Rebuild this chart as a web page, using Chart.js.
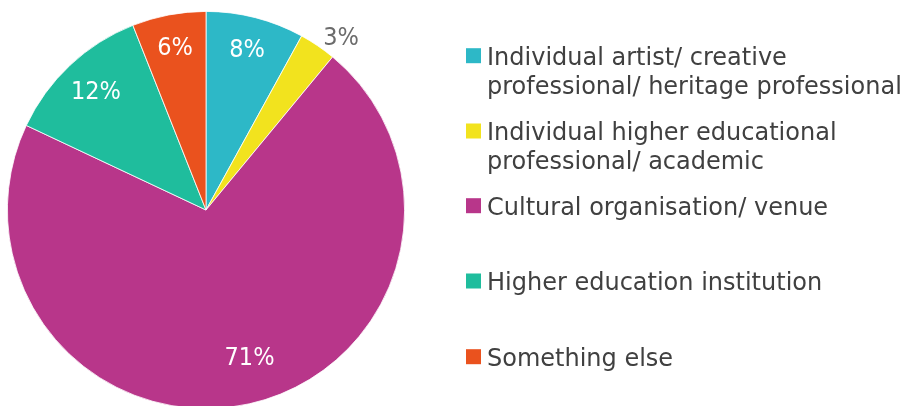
<!DOCTYPE html>
<html>
<head>
<meta charset="utf-8">
<script src="https://cdn.jsdelivr.net/npm/chart.js@4/dist/chart.umd.min.js"></script>
<style>
  html, body { margin: 0; padding: 0; background: #ffffff; overflow: hidden; }
  #wrap { width: 906px; height: 406px; overflow: hidden; }
  canvas { display: block; }
</style>
</head>
<body>
<div id="wrap"><canvas id="chart" width="906" height="409"></canvas></div>
<script>
// Respondent types and their share of responses (%)
const categories = [
  ["Individual artist/ creative", "professional/ heritage professional"],
  ["Individual higher educational", "professional/ academic"],
  ["Cultural organisation/ venue"],
  ["Higher education institution"],
  ["Something else"]
];
const shares = [8, 3, 71, 12, 6];
const valueLabels = ["8%", "3%", "71%", "12%", "6%"];
const sliceColors = ["#2DB8C7", "#F2E31E", "#B8368A", "#1FBD9D", "#EA521E"];

const LEGEND_FONT = '"DejaVu Sans", sans-serif';
const LABEL_FONT = '"Liberation Sans Narrow", "DejaVu Sans Condensed", sans-serif';

// Label placement per slice: radial fraction and angular nudge (radians)
const labelRadius = [0.83, 1.1, 0.78, 0.81, 0.83];
const labelNudge = [0, 0.07, -0.065, 0, 0];

// Percent labels placed along each slice's mid-angle
const sliceLabels = {
  id: 'sliceLabels',
  afterDatasetsDraw(chart) {
    const ctx = chart.ctx;
    const arcs = chart.getDatasetMeta(0).data;
    ctx.save();
    ctx.font = '25px ' + LABEL_FONT;
    ctx.textAlign = 'center';
    ctx.textBaseline = 'middle';
    arcs.forEach((arc, i) => {
      const outside = labelRadius[i] > 1;
      const mid = (arc.startAngle + arc.endAngle) / 2 + labelNudge[i];
      const r = arc.outerRadius * labelRadius[i];
      const x = arc.x + Math.cos(mid) * r;
      const y = arc.y + Math.sin(mid) * r;
      ctx.fillStyle = outside ? '#6b6b6b' : '#ffffff';
      ctx.fillText(valueLabels[i], x, y);
    });
    ctx.restore();
  }
};

// Legend on the right with square swatches and wrapped labels
const sideLegend = {
  id: 'sideLegend',
  afterDraw(chart) {
    const ctx = chart.ctx;
    const rows = [55.7, 131, 205.7, 281, 356.7];
    const swatchX = 466, swatchSize = 15, textX = 487, lineGap = 29;
    ctx.save();
    ctx.font = '24px ' + LEGEND_FONT;
    ctx.textAlign = 'left';
    ctx.textBaseline = 'alphabetic';
    categories.forEach((lines, i) => {
      const cy = rows[i];
      ctx.fillStyle = sliceColors[i];
      ctx.fillRect(swatchX, cy - swatchSize / 2, swatchSize, swatchSize);
      ctx.fillStyle = '#404040';
      lines.forEach((line, j) => {
        ctx.fillText(line, textX, cy + 9 + j * lineGap);
      });
    });
    ctx.restore();
  }
};

new Chart(document.getElementById('chart'), {
  type: 'pie',
  data: {
    labels: categories.map(l => l.join(' ')),
    datasets: [{
      data: shares,
      backgroundColor: sliceColors,
      borderColor: '#ffffff',
      borderWidth: 0.8
    }]
  },
  options: {
    responsive: false,
    animation: false,
    layout: { padding: { left: 7, top: 11, right: 501, bottom: 0 } },
    plugins: {
      legend: { display: false },
      tooltip: { enabled: false }
    }
  },
  plugins: [sliceLabels, sideLegend]
});
</script>
</body>
</html>
